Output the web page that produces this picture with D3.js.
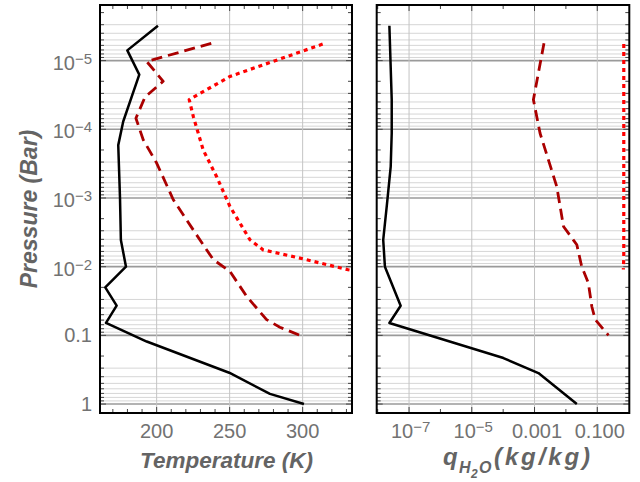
<!DOCTYPE html>
<html><head><meta charset="utf-8">
<script src="https://cdn.jsdelivr.net/npm/d3@7"></script>
<style>body{margin:0;background:#fff}svg{display:block}</style>
</head><body>
<svg id="c" width="640" height="482"></svg>
<script>
// ---- data ----
// Temperature panel
const tBlackP = [3.1e-6, 7.1e-6, 1.6e-5, 7.7e-5, 1.7e-4, 1e-3, 4.1e-3, 1e-2, 0.02, 0.037, 0.066, 0.123, 0.35, 0.71, 1];
const tBlackT = [200.9, 179.9, 188.1, 177.1, 173.7, 174.9, 175.5, 179, 164.8, 172.6, 165.3, 193.2, 249.7, 277.6, 300.9];
const tDashP = [5.6e-6, 1.03e-5, 2.0e-5, 3.4e-5, 6.9e-5, 1.42e-4, 3.1e-4, 1.06e-3, 4.1e-3, 7.9e-3, 1.17e-2, 0.027, 0.059, 0.076, 0.1];
const tDashT = [237.4, 193.2, 204.5, 192.0, 185.8, 190.8, 200.0, 211.4, 229.7, 238.8, 250.2, 261.6, 275.3, 284.4, 298.1];
const tDotP = [5.75e-6, 1.7e-5, 3.7e-5, 6.5e-5, 2.0e-4, 4.9e-4, 1.33e-3, 4.06e-3, 5.7e-3, 7.5e-3, 1.11e-2, 1.2e-2];
const tDotT = [313.7, 250.2, 222.3, 225.1, 231.9, 241.1, 250.2, 263.9, 273.0, 298.1, 331.2, 340];
// Water mixing ratio panel
const qBlackP = [3.1e-6, 3.7e-5, 1.14e-4, 3.5e-4, 1.3e-3, 4.06e-3, 0.01, 0.037, 0.066, 0.214, 0.354, 1];
const qBlackQ = [2.36e-8, 2.8e-8, 2.8e-8, 2.6e-8, 1.95e-8, 1.5e-8, 1.7e-8, 5.4e-8, 2.36e-8, 1.02e-4, 1.33e-3, 2.23e-2];
const qDashP = [5.6e-6, 3.7e-5, 1.14e-4, 6.8e-4, 2.6e-3, 4.1e-3, 4.8e-3, 0.01, 0.0173, 0.038, 0.059, 0.1];
const qDashQ = [2.0e-3, 9.2e-4, 1.5e-3, 5.1e-3, 8.4e-3, 1.74e-2, 2.23e-2, 3.2e-2, 5.2e-2, 6.7e-2, 8.6e-2, 0.228];
const qDotP = [5.75e-6, 1.7e-5, 2.0e-4, 1.33e-3, 4.06e-3, 7.5e-3, 1.1e-2];
const qDotQ = [0.70, 0.70, 0.70, 0.70, 0.70, 0.70, 0.68];
// ticks
const pMajor = [1e-5, 1e-4, 1e-3, 1e-2, 0.1, 1];
const pLabels = [["10", "−5"], ["10", "−4"], ["10", "−3"], ["10", "−2"], ["0.1", null], ["1", null]];
const tMajor = [200, 250, 300];
const tLabels = ["200", "250", "300"];
const qMajor = [1e-7, 1e-5, 1e-3, 1e-1];
const qLabels = [["10", "−7"], ["10", "−5"], ["0.001", null], ["0.100", null]];

// ---- layout ----
const svg = d3.select("#c");
const yTop = 5, yBot = 413;
const L = {x0: 100, x1: 352}, R = {x0: 376.7, x1: 629.3};
const y = d3.scaleLog().domain([1.35, 1.55e-6]).range([yBot, yTop]);
const xT = d3.scaleLinear().domain([161.2, 333.8]).range([L.x0, L.x1]);
const xQ = d3.scaleLog().domain([9.3e-9, 1.05]).range([R.x0, R.x1]);
const font = "'Liberation Sans', Arial, sans-serif";
const tickCol = "#727272";

const pAll = [];
for (let e = -6; e <= 0; e++) for (let m = 1; m <= 9; m++) {
  const v = m * Math.pow(10, e);
  if (v >= 1.55e-6 && v <= 1.35) pAll.push({v, m});
}

const defs = svg.append("defs");
[["clipL", L], ["clipR", R]].forEach(([id, P]) => {
  defs.append("clipPath").attr("id", id).append("rect")
    .attr("x", P.x0).attr("y", yTop).attr("width", P.x1 - P.x0).attr("height", yBot - yTop);
});

function panel(P, xs, xMajor, xMinor) {
  const g = svg.append("g");
  pAll.filter(d => d.m >= 3).forEach(d => {
    g.append("line").attr("x1", P.x0).attr("x2", P.x1).attr("y1", y(d.v)).attr("y2", y(d.v))
      .attr("stroke", "#d6d6d6").attr("stroke-width", 1);
  });
  pAll.filter(d => d.m === 1).forEach(d => {
    g.append("line").attr("x1", P.x0).attr("x2", P.x1).attr("y1", y(d.v)).attr("y2", y(d.v))
      .attr("stroke", "#9a9a9a").attr("stroke-width", 1.6);
  });
  xMajor.forEach(v => {
    g.append("line").attr("x1", xs(v)).attr("x2", xs(v)).attr("y1", yTop).attr("y2", yBot)
      .attr("stroke", "#c4c4c4").attr("stroke-width", 1);
  });
  pAll.forEach(d => {
    const len = d.m === 1 ? 6 : 4;
    g.append("line").attr("x1", P.x0).attr("x2", P.x0 + len).attr("y1", y(d.v)).attr("y2", y(d.v)).attr("stroke", "#444").attr("stroke-width", 1);
    g.append("line").attr("x1", P.x1).attr("x2", P.x1 - len).attr("y1", y(d.v)).attr("y2", y(d.v)).attr("stroke", "#444").attr("stroke-width", 1);
  });
  xMinor.forEach(v => {
    const major = xMajor.includes(v);
    const len = major ? 6 : 4;
    g.append("line").attr("x1", xs(v)).attr("x2", xs(v)).attr("y1", yBot).attr("y2", yBot - len).attr("stroke", "#444").attr("stroke-width", 1);
    g.append("line").attr("x1", xs(v)).attr("x2", xs(v)).attr("y1", yTop).attr("y2", yTop + len).attr("stroke", "#444").attr("stroke-width", 1);
  });
  return g;
}

const tMinor = d3.range(170, 331, 10);
const qMinor = d3.range(-8, 0).map(e => Math.pow(10, e));
panel(L, xT, tMajor, tMinor);
panel(R, xQ, qMajor, qMinor);

function curve(clip, xs, xv, pv, color, dash, w) {
  const line = d3.line().x(d => xs(d[0])).y(d => y(d[1]));
  svg.append("path").attr("clip-path", `url(#${clip})`)
    .datum(xv.map((v, i) => [v, pv[i]]))
    .attr("d", line).attr("fill", "none").attr("stroke", color)
    .attr("stroke-width", w).attr("stroke-dasharray", dash).attr("stroke-linejoin", "round");
}
curve("clipL", xT, tDotT, tDotP, "#ff0000", "4,4", 3.2);
curve("clipL", xT, tDashT, tDashP, "#aa0000", "11,6", 2.8);
curve("clipL", xT, tBlackT, tBlackP, "#000", null, 2.5);
curve("clipR", xQ, qDotQ, qDotP, "#ff0000", "4,4", 3.2);
curve("clipR", xQ, qDashQ, qDashP, "#aa0000", "11,6", 2.8);
curve("clipR", xQ, qBlackQ, qBlackP, "#000", null, 2.5);

[L, R].forEach(P => svg.append("rect").attr("x", P.x0).attr("y", yTop)
  .attr("width", P.x1 - P.x0).attr("height", yBot - yTop)
  .attr("fill", "none").attr("stroke", "#000").attr("stroke-width", 2));

function supLabel(x, yy, parts, anchor) {
  const t = svg.append("text").attr("x", x).attr("y", yy).attr("text-anchor", anchor)
    .attr("font-family", font).attr("font-size", 20).attr("fill", tickCol);
  t.append("tspan").text(parts[0]);
  if (parts[1]) t.append("tspan").attr("dy", -6).attr("font-size", 15).text(parts[1]);
}
pMajor.forEach((v, i) => {
  const lab = pLabels[i];
  supLabel(92, y(v) + (lab[1] ? 9 : 7), lab, "end");
});
tMajor.forEach((v, i) => supLabel(xT(v), 438, [tLabels[i], null], "middle"));
qMajor.forEach((v, i) => supLabel(xQ(v) + (qLabels[i][1] ? 1.5 : 2.5), 438, qLabels[i], "middle"));

const titleCol = "#646464";
function title(x, yy, s, size, extra) {
  const t = svg.append("text").attr("x", x).attr("y", yy)
    .attr("font-family", font).attr("font-size", size).attr("font-weight", "bold").attr("font-style", "italic")
    .attr("fill", titleCol).text(s);
  if (extra) extra(t);
  return t;
}
title(226.5, 468, "Temperature (K)", 22.5, t => t.attr("text-anchor", "middle"));
title(0, 0, "Pressure (Bar)", 23, t => t.attr("text-anchor", "middle").attr("transform", "translate(37,209) rotate(-90)"));
title(443, 465, "q", 24);
title(459, 473, "H", 16);
title(471, 478, "2", 12);
title(479, 473, "O", 16);
title(494, 465, "(kg/kg)", 24, t => t.attr("textLength", 96).attr("lengthAdjust", "spacing"));
</script>
</body></html>
